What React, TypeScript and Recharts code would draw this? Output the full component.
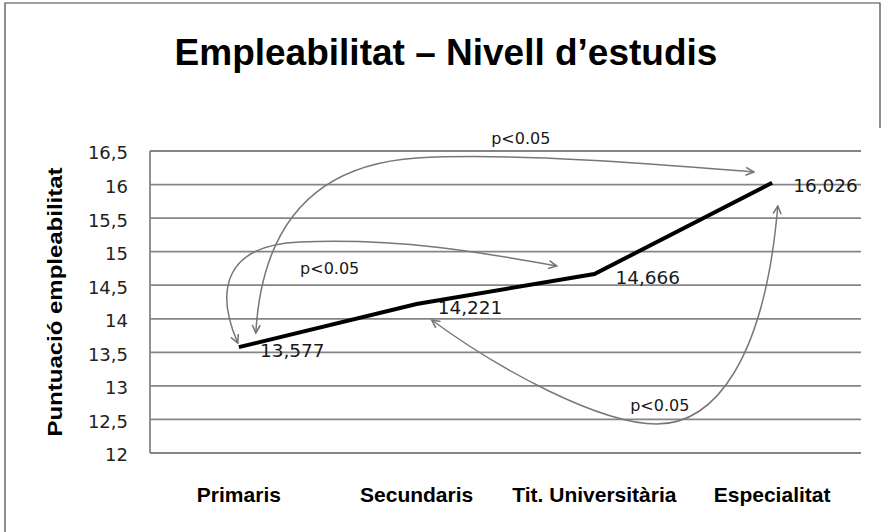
import { CartesianGrid, LabelList, Line, LineChart, XAxis, YAxis } from "recharts";

const categories = ["Primaris", "Secundaris", "Tit. Universitària", "Especialitat"];
const scores = [13.577, 14.221, 14.666, 16.026];
const yTicks = [12, 12.5, 13, 13.5, 14, 14.5, 15, 15.5, 16, 16.5];

// significance arrows, in data space: [category index, score]
const arrowTop = [
  [0.095, 13.788], [0.129, 15.323], [0.399, 16.291], [1.001, 16.396],
  [1.58, 16.485], [2.48, 16.276], [2.897, 16.187],
];
const arrowMiddle = [
  [-0.006, 13.639], [-0.136, 14.429], [-0.079, 15.099], [0.343, 15.144],
  [0.905, 15.204], [1.355, 14.995], [1.788, 14.786],
];
const arrowBottom = [
  [1.085, 13.982], [1.468, 13.237], [2.03, 12.432], [2.351, 12.432],
  [2.677, 12.432], [2.958, 13.386], [3.032, 15.681],
];
const pLabels = [
  { text: "p<0.05", at: [1.586, 16.604] },
  { text: "p<0.05", at: [0.511, 14.667] },
  { text: "p<0.05", at: [2.368, 12.626] },
];

const data = categories.map((name, i) => ({ name, score: scores[i] }));

const W = 887;
const H = 532;
const margin = { top: 151, right: 26, bottom: 0, left: 0 };
const Y_AXIS_W = 150;
const X_AXIS_H = 79;
const plotLeft = margin.left + Y_AXIS_W;
const plotRight = W - margin.right;
const plotTop = margin.top;
const plotBottom = H - margin.bottom - X_AXIS_H;
const xPad = (plotRight - plotLeft) / 8;
const Y_MIN = 12;
const Y_MAX = 16.5;

const px = (i: number) =>
  plotLeft + xPad + (i * (plotRight - plotLeft - 2 * xPad)) / (categories.length - 1);
const py = (v: number) =>
  plotBottom - ((v - Y_MIN) / (Y_MAX - Y_MIN)) * (plotBottom - plotTop);

function arrowPath(pts: number[][]) {
  const p = pts.map(([i, v]) => `${px(i).toFixed(1)} ${py(v).toFixed(1)}`);
  return `M ${p[0]} C ${p[1]}, ${p[2]}, ${p[3]} C ${p[4]}, ${p[5]}, ${p[6]}`;
}

const sans = '"Liberation Sans", Arial, sans-serif';
const numFont = '"DejaVu Sans", Verdana, sans-serif';
const gridColor = "#858585";
const arrowColor = "#777";

function ValueLabel(props: any) {
  const { x, y, value } = props;
  return (
    <text x={x + 21} y={y + 3} dy="0.36em" fontFamily={numFont} fontSize={18.5} fill="#1a1a1a">
      {String(value).replace(".", ",")}
    </text>
  );
}

export default function App() {
  return (
    <div style={{ position: "absolute", left: 0, top: 0, width: W, height: H, background: "#fff" }}>
      <LineChart width={W} height={H} data={data} margin={margin}>
        <CartesianGrid vertical={false} stroke={gridColor} strokeWidth={1.8} />
        <XAxis
          dataKey="name"
          height={X_AXIS_H}
          padding={{ left: xPad, right: xPad }}
          axisLine={false}
          tickLine={false}
          tickSize={0}
          tickMargin={34}
          interval={0}
          tick={{ fill: "#000", fontFamily: sans, fontSize: 21, fontWeight: 700 }}
        />
        <YAxis
          width={Y_AXIS_W}
          domain={[Y_MIN, Y_MAX]}
          ticks={yTicks}
          interval={0}
          axisLine={{ stroke: gridColor, strokeWidth: 1.8 }}
          tickLine={false}
          tickSize={0}
          tickMargin={22}
          tickFormatter={(v: number) => String(v).replace(".", ",")}
          tick={{ fill: "#222", fontFamily: numFont, fontSize: 18, dy: 2 }}
        />
        <Line
          type="linear"
          dataKey="score"
          stroke="#000"
          strokeWidth={4}
          dot={false}
          activeDot={false}
          isAnimationActive={false}
        >
          <LabelList dataKey="score" content={ValueLabel} />
        </Line>
      </LineChart>
      <svg
        width={W}
        height={H}
        style={{ position: "absolute", left: 0, top: 0, pointerEvents: "none" }}
      >
        <defs>
          <marker
            id="head"
            viewBox="0 0 10 10"
            refX="9"
            refY="5"
            markerWidth="10"
            markerHeight="10"
            markerUnits="userSpaceOnUse"
            orient="auto-start-reverse"
          >
            <path d="M1 1 L9 5 L1 9" fill="none" stroke={arrowColor} strokeWidth="1.6" />
          </marker>
        </defs>
        <path d="M5 532 L5 3 L880 3 L880 128" fill="none" stroke="#444" strokeWidth={1.2} />
        <text x={446} y={65} textAnchor="middle" fontFamily={sans} fontSize={37} fontWeight={700} fill="#000">
          Empleabilitat – Nivell d’estudis
        </text>
        <text
          transform={`translate(62 ${(plotTop + plotBottom) / 2}) rotate(-90)`}
          textAnchor="middle"
          fontFamily={sans}
          fontSize={21}
          fontWeight={700}
          fill="#000"
          textLength={269}
          lengthAdjust="spacingAndGlyphs"
        >
          Puntuació empleabilitat
        </text>
        {[arrowTop, arrowMiddle, arrowBottom].map((pts, k) => (
          <path
            key={k}
            d={arrowPath(pts)}
            fill="none"
            stroke={arrowColor}
            strokeWidth={1.5}
            markerStart="url(#head)"
            markerEnd="url(#head)"
          />
        ))}
        {pLabels.map((p, k) => (
          <text
            key={k}
            x={px(p.at[0])}
            y={py(p.at[1])}
            textAnchor="middle"
            fontFamily={numFont}
            fontSize={16}
            fill="#1a1a1a"
          >
            {p.text}
          </text>
        ))}
      </svg>
    </div>
  );
}
